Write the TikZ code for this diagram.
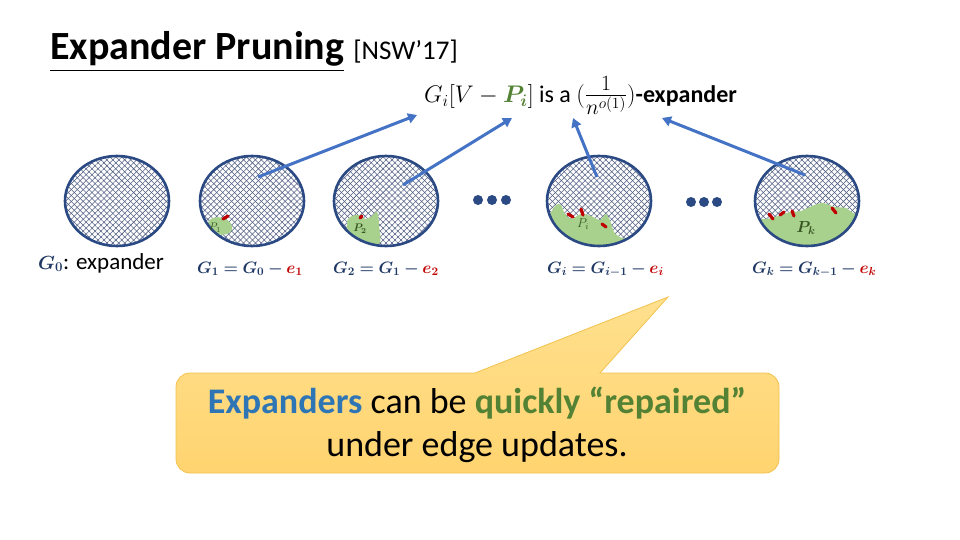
\documentclass[tikz,border=0pt]{standalone}
\usepackage{fix-cm}
\usepackage{amsmath,bm}
\usepackage{fontspec}
\setmainfont{Carlito}
\usetikzlibrary{arrows.meta,patterns.meta,shapes.geometric}
\definecolor{rim}{HTML}{2B4A84}
\definecolor{hatch}{HTML}{4E5C82}
\definecolor{arrblue}{HTML}{4472C4}
\definecolor{lblue}{HTML}{1F3864}
\definecolor{ered}{HTML}{C00000}
\definecolor{pgreen}{HTML}{548235}
\definecolor{blob}{HTML}{A9D18E}
\definecolor{dkgreen}{HTML}{385723}
\definecolor{calltop}{HTML}{FFE08E}
\definecolor{callbot}{HTML}{FFD470}
\definecolor{callrim}{HTML}{F2C24E}
\definecolor{ctblue}{HTML}{2E75B6}
\begin{document}
\begin{tikzpicture}[x=1pt,y=-1pt,
  circ/.style={ellipse, minimum width=106pt, minimum height=92pt, inner sep=0pt,
    preaction={fill=white},
    preaction={pattern={Lines[angle=45,distance=4.2pt,line width=0.55pt]}, pattern color=hatch},
    pattern={Lines[angle=-45,distance=4.2pt,line width=0.55pt]}, pattern color=hatch},
  rimline/.style={draw=rim, line width=2.6pt},
  arr/.style={draw=arrblue, line width=3pt, -{Triangle[length=9pt,width=10pt]}},
  dot/.style={circle, fill=rim, minimum size=10pt, inner sep=0pt},
  redmark/.style={draw=ered, line width=3.2pt, line cap=round},
  glabel/.style={anchor=base west, inner sep=0pt, font=\fontsize{16.5}{20}\selectfont, text=lblue},
  blobfill/.style={fill=blob}
]
\useasboundingbox (0,0) rectangle (960,540);

% title
\node[anchor=base west, inner sep=0pt] (title) at (50,60)
  {\fontsize{40}{44}\selectfont\bfseries\underline{Expander Pruning}\ {\fontsize{27}{30}\selectfont\mdseries [NSW’17]}};

% formula
\node[anchor=base west, inner sep=0pt] (formula) at (424,103)
  {\fontsize{24}{28}\selectfont $G_i[V-\textcolor{pgreen}{\bm{P_i}}]$ is a $(\mbox{\fontsize{31}{34}\selectfont$\frac{1}{n^{o(1)}}$})$\textbf{-expander}};

% circles
\node[circ] (g0) at (117,201) {};
\node[circ] (g1) at (252,201) {};
\node[circ] (g2) at (386,201) {};
\node[circ] (gi) at (599,201) {};
\node[circ] (gk) at (807,201) {};

% blobs
\begin{scope}
  \clip (g1.center) ellipse [x radius=52, y radius=45];
  \fill[blobfill, rotate around={-15:(220,226)}] (220,226) ellipse [x radius=12.5, y radius=8.5];
\end{scope}
\begin{scope}
  \clip (g2.center) ellipse [x radius=52, y radius=45];
  \fill[blobfill] plot[smooth cycle, tension=0.6] coordinates {(347,224) (350,217) (358,215) (366,219) (372,216) (377,212) (379,225) (378,245) (350,245)};
\end{scope}
\begin{scope}
  \clip (gi.center) ellipse [x radius=52, y radius=45];
  \fill[blobfill] plot[smooth, tension=0.55] coordinates {(543,232) (549,216) (556,205) (561,205) (564,212) (571,219) (581,214) (591,216) (600,220) (606,214) (611,223) (614,232) (622,238) (636,238) (648,243) (665,252)} -- (665,260) -- (540,260) -- cycle;
\end{scope}
\begin{scope}
  \clip (gk.center) ellipse [x radius=52, y radius=45];
  \fill[blobfill] plot[smooth, tension=0.55] coordinates {(752,219) (766,219) (778,216) (790,212) (801,211) (812,206) (823,203) (835,207) (846,208) (853,213) (863,216)} -- (863,260) -- (752,260) -- cycle;
\end{scope}

% rims
\draw[rimline] (g0.center) ellipse [x radius=52, y radius=45];
\draw[rimline] (g1.center) ellipse [x radius=52, y radius=45];
\draw[rimline] (g2.center) ellipse [x radius=52, y radius=45];
\draw[rimline] (gi.center) ellipse [x radius=52, y radius=45];
\draw[rimline] (gk.center) ellipse [x radius=52, y radius=45];

% P labels
\node[text=dkgreen, font=\fontsize{11}{12}\selectfont, inner sep=0pt] (p1) at (215,228) {$P_1$};
\node[text=dkgreen, font=\fontsize{11}{12}\selectfont, inner sep=0pt] (p2) at (360,229) {$\bm{P_2}$};
\node[text=dkgreen, font=\fontsize{13}{14}\selectfont, inner sep=0pt] (pi) at (583,224) {$P_i$};
\node[text=dkgreen, font=\fontsize{16}{18}\selectfont, inner sep=0pt] (pk) at (806,228) {$\bm{P_k}$};

% red marks
\coordinate (r1a) at (223,219); \coordinate (r1b) at (228,216);
\draw[redmark] (r1a) -- (r1b);
\coordinate (r2a) at (360,218); \coordinate (r2b) at (362,216);
\draw[redmark] (r2a) -- (r2b);
\coordinate (ria) at (568,214); \coordinate (rib) at (573,217);
\draw[redmark] (ria) -- (rib);
\coordinate (ric) at (581,209); \coordinate (rid) at (583,215);
\draw[redmark] (ric) -- (rid);
\coordinate (rie) at (602,224); \coordinate (rif) at (606,227);
\draw[redmark] (rie) -- (rif);
\coordinate (rka) at (769,214); \coordinate (rkb) at (773,219);
\draw[redmark] (rka) -- (rkb);
\coordinate (rkc) at (780,215); \coordinate (rkd) at (784,212);
\draw[redmark] (rkc) -- (rkd);
\coordinate (rke) at (792,211); \coordinate (rkf) at (794,216);
\draw[redmark] (rke) -- (rkf);
\coordinate (rkg) at (832,208); \coordinate (rkh) at (836,213);
\draw[redmark] (rkg) -- (rkh);

% dots
\node[dot] (d1) at (478,200) {};
\node[dot] (d2) at (492,200) {};
\node[dot] (d3) at (506,200) {};
\node[dot] (d4) at (691,202) {};
\node[dot] (d5) at (704,202) {};
\node[dot] (d6) at (717,202) {};

% arrows
\coordinate (s1) at (258,177); \coordinate (e1) at (417,115);
\coordinate (s2) at (403,185); \coordinate (e2) at (512,118);
\coordinate (s3) at (597,177); \coordinate (e3) at (573,118);
\coordinate (s4) at (805,175); \coordinate (e4) at (662,118);
\draw[arr] (s1) -- (e1);
\draw[arr] (s2) -- (e2);
\draw[arr] (s3) -- (e3);
\draw[arr] (s4) -- (e4);

% labels
\node[glabel] (l0) at (38,269) {\fontsize{19}{22}\selectfont$\bm{G_0}$\textcolor{black}{\fontsize{23}{26}\selectfont: expander}};
\node[glabel] (l1) at (197,273) {$\bm{G_1=G_0-}\textcolor{ered}{\bm{e_1}}$};
\node[glabel] (l2) at (333,273) {$\bm{G_2=G_1-}\textcolor{ered}{\bm{e_2}}$};
\node[glabel] (li) at (547,273) {$\bm{G_i=G_{i-1}-}\textcolor{ered}{\bm{e_i}}$};
\node[glabel] (lk) at (752,273) {$\bm{G_k=G_{k-1}-}\textcolor{ered}{\bm{e_k}}$};

% callout
\path[top color=calltop, bottom color=callbot, draw=callrim, line width=0.8pt]
  (475,373) [rounded corners=14pt] -- (176,373) -- (176,473) -- (779,473) -- (779,373) [sharp corners] -- (600,373) -- (668,297) -- cycle;
\node[align=center, inner sep=0pt, font=\fontsize{36}{43}\selectfont] (ctext) at (477,425)
  {\textcolor{ctblue}{\bfseries Expanders} can be \textcolor{pgreen}{\bfseries quickly “repaired”}\\under edge updates.};
\end{tikzpicture}
\end{document}
